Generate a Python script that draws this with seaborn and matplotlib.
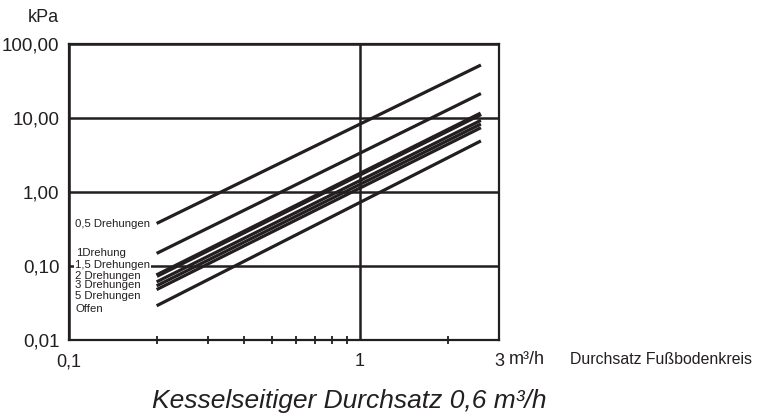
import numpy as np
import pandas as pd
import matplotlib
matplotlib.use("Agg")
import matplotlib.pyplot as plt
from matplotlib.ticker import FixedLocator, NullFormatter, NullLocator
import seaborn as sns

# Durchsatz Fußbodenkreis (m³/h) at start and end of each curve
flow = [0.2, 2.6]

# Druckverlust (kPa) per Voreinstellung
series = ["0,5 Drehungen", "1Drehung", "1,5 Drehungen", "2 Drehungen",
          "3 Drehungen", "5 Drehungen", "Offen"]
dp_start = [0.376, 0.148, 0.074, 0.061, 0.054, 0.048, 0.029]
dp_end = [52.0, 21.4, 11.4, 9.3, 8.3, 7.4, 4.9]

x_ticks = [0.1, 1, 3]
x_tick_labels = ["0,1", "1", "3"]
x_minor = [0.2, 0.3, 0.4, 0.5, 0.6, 0.7, 0.8, 0.9, 2]
y_ticks = [0.01, 0.1, 1, 10, 100]
y_tick_labels = ["0,01", "0,10", "1,00", "10,00", "100,00"]

ink = "#231f20"


def main():
    rows = []
    for name, a, b in zip(series, dp_start, dp_end):
        rows.append({"Serie": name, "Q": flow[0], "dp": a})
        rows.append({"Serie": name, "Q": flow[1], "dp": b})
    df = pd.DataFrame(rows)

    sns.set_theme(style="white")
    plt.rcParams["font.family"] = ["Liberation Sans", "DejaVu Sans"]

    fig = plt.figure(figsize=(7.62, 4.19), dpi=100)
    ax = fig.add_axes([69 / 762, 1 - 340 / 419, 430 / 762, 296 / 419])

    sns.lineplot(data=df, x="Q", y="dp", hue="Serie", hue_order=series,
                 palette=[ink] * len(series), legend=False, ax=ax,
                 linewidth=2.3, solid_capstyle="butt")
    # the 1,5 curve is drawn as a heavy band in the original
    ax.lines[2].set_linewidth(3.4)

    ax.set_xscale("log")
    ax.set_yscale("log")
    ax.set_xlim(0.1, 3)
    ax.set_ylim(0.01, 100)

    ax.xaxis.set_major_locator(FixedLocator(x_ticks))
    ax.set_xticklabels(x_tick_labels)
    ax.xaxis.set_minor_locator(FixedLocator(x_minor))
    ax.xaxis.set_minor_formatter(NullFormatter())
    ax.yaxis.set_major_locator(FixedLocator(y_ticks))
    ax.set_yticklabels(y_tick_labels)
    ax.yaxis.set_minor_locator(NullLocator())

    ax.tick_params(axis="x", which="major", length=0, pad=9.5,
                   labelsize=13, colors=ink)
    ax.tick_params(axis="x", which="minor", length=5.8, width=1.3,
                   direction="inout", color=ink, bottom=True)
    ax.tick_params(axis="y", which="major", length=0, pad=7,
                   labelsize=13.5, colors=ink)

    ax.grid(True, which="major", color=ink, linewidth=1.8)
    for sp in ax.spines.values():
        sp.set_color(ink)
        sp.set_linewidth(1.6)

    ax.set_xlabel("")
    ax.set_ylabel("")

    # curve labels on the left
    label_y = [224, 253, 265, 276, 285, 296, 309]
    label_x = [75, 76, 75, 75, 75, 75, 76]
    for name, px, py in zip(series, label_x, label_y):
        kw = {}
        if name == "1,5 Drehungen":
            kw["bbox"] = dict(facecolor="white", edgecolor="none", pad=0.6)
        ax.text((px - 69) / 430, (340 - py) / 296, name,
                transform=ax.transAxes, ha="left", va="center",
                fontsize=8.2, color=ink, **kw)

    fig.text(59 / 762, 1 - 17.5 / 419, "kPa", ha="right", va="center",
             fontsize=13, color=ink)
    fig.text(509 / 762, 1 - 359 / 419, "m³/h", ha="left", va="center",
             fontsize=13, color=ink)
    fig.text(570 / 762, 1 - 359 / 419, "Durchsatz Fußbodenkreis",
             ha="left", va="center", fontsize=11.4, color=ink)
    fig.text(349 / 762, 1 - 401 / 419, "Kesselseitiger Durchsatz 0,6 m³/h",
             ha="center", va="center", fontsize=19, style="italic",
             color=ink)

    fig.savefig("out.png", dpi=100)
    plt.close(fig)


if __name__ == "__main__":
    main()
